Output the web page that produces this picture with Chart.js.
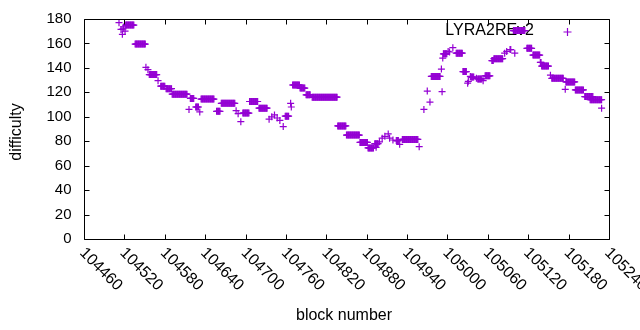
<!DOCTYPE html>
<html lang="en">
<head>
    <meta charset="UTF-8">
    <title>LYRA2REv2 difficulty</title>
    <script src="https://cdn.jsdelivr.net/npm/chart.js"></script>
    <style>
        html,body{margin:0;padding:0;background:#fff;}
        #wrap{width:640px;height:330px;}
    </style>
</head>
<body>
    <div id="wrap"><canvas id="myChart" width="640" height="330"></canvas></div>

    <script>
        // plateaus of difficulty: first block, last block, value (single points have first == last)
        const segStart = [104512,104515,104517,104518,104519,104521,104522,104536,104552,104555,104557,104570,104574,104582,104591,104616,104618,104626,104632,104634,104657,104664,104686,104689,104693,104696,104706,104720,104735,104739,104743,104747,104751,104756,104759,104767,104768,104770,104781,104790,104799,104837,104850,104870,104882,104892,104894,104899,104903,104907,104912,104914,104919,104924,104929,104933,104958,104965,104970,104974,104976,104991,104992,104993,104994,105001,105003,105008,105013,105023,105030,105031,105034,105035,105043,105045,105053,105056,105066,105069,105085,105088,105093,105098,105100,105118,105127,105138,105140,105153,105155,105175,105176,105190,105204,105212,105229];
        const segEnd   = [104512,104515,104517,104518,104519,104521,104534,104551,104552,104555,104568,104570,104580,104590,104613,104616,104623,104630,104632,104653,104662,104684,104686,104689,104693,104705,104718,104732,104735,104739,104743,104747,104751,104756,104764,104767,104768,104780,104788,104796,104836,104849,104869,104881,104890,104897,104894,104899,104903,104907,104912,104914,104919,104927,104929,104956,104958,104965,104970,104974,104989,104991,104992,104993,104999,105001,105003,105008,105022,105028,105030,105031,105034,105039,105043,105051,105053,105063,105068,105082,105085,105088,105094,105115,105100,105125,105137,105139,105150,105153,105172,105175,105189,105202,105216,105229,105229];
        const segValue = [177,171.5,167.5,172,173.5,170,175,159.5,140.5,138.5,134.5,129.5,125,123,118.5,106,115,108,104,114.5,104.5,111,105,102.5,96,103,112.5,107,98,100,101.5,99,97,92,100.5,111,108,126,123.5,118,116,92.5,85,79,74.5,78,75,79.5,82.5,84,86,82.5,81,80.5,77.5,81.5,75.5,106,121,112,133,139,120.5,148,151.5,153.5,153,156.5,152,137,127.5,129,133,132.5,131.5,131,129.5,133.5,146,147.5,152,153.5,155,170.5,152,156,150.5,144.5,141.5,134,131.5,122.5,128.5,122,116.5,114,107];

        const xTicks = [104460,104520,104580,104640,104700,104760,104820,104880,104940,105000,105060,105120,105180,105240];
        const yTicks = [0,20,40,60,80,100,120,140,160,180];
        const seriesName = 'LYRA2REv2';
        const purple = '#9400d3';
        const FONT = '15px "Liberation Sans", Arial, sans-serif';
        const FONT_BIG = '16px "Liberation Sans", Arial, sans-serif';

        // one point per block inside each plateau
        const points = [];
        segStart.forEach((s, i) => {
            for (let b = s; b <= segEnd[i]; b++) points.push({x: b, y: segValue[i]});
        });

        // gnuplot-like frame, inward ticks, labels and key
        const framePlugin = {
            id: 'frame',
            beforeDatasetsDraw(chart) {
                const ctx = chart.ctx;
                ctx.save();
                ctx.font = FONT_BIG;
                ctx.fillStyle = '#000';
                ctx.textAlign = 'right';
                ctx.textBaseline = 'middle';
                ctx.fillText(seriesName, 534, 31);
                ctx.restore();
            },
            afterDraw(chart) {
                const ctx = chart.ctx;
                const a = chart.chartArea;
                const xs = chart.scales.x, ys = chart.scales.y;
                const L = Math.round(a.left) + 0.5, R = Math.round(a.right) + 0.5;
                const T = Math.round(a.top) + 0.5, B = Math.round(a.bottom) + 0.5;
                ctx.save();
                ctx.strokeStyle = '#000';
                ctx.lineWidth = 1;
                ctx.beginPath();
                ctx.rect(L, T, R - L, B - T);
                yTicks.forEach(v => {
                    const y = Math.round(ys.getPixelForValue(v)) + 0.5;
                    ctx.moveTo(L, y); ctx.lineTo(L + 5, y);
                    ctx.moveTo(R, y); ctx.lineTo(R - 5, y);
                });
                xTicks.forEach(v => {
                    const x = Math.round(xs.getPixelForValue(v)) + 0.5;
                    ctx.moveTo(x, B); ctx.lineTo(x, B - 5);
                    ctx.moveTo(x, T); ctx.lineTo(x, T + 5);
                });
                ctx.stroke();

                ctx.font = FONT;
                ctx.fillStyle = '#000';
                ctx.textAlign = 'right';
                ctx.textBaseline = 'middle';
                yTicks.forEach(v => ctx.fillText(String(v), L - 13, ys.getPixelForValue(v)));

                ctx.font = FONT_BIG;
                ctx.textAlign = 'left';
                xTicks.forEach(v => {
                    const x = xs.getPixelForValue(v);
                    ctx.save();
                    ctx.translate(x - 2, B + 11);
                    ctx.rotate(Math.PI / 4);
                    ctx.fillText(String(v), 0, 0);
                    ctx.restore();
                });

                ctx.textAlign = 'center';
                ctx.fillText('block number', 344, 316);
                ctx.save();
                ctx.translate(17, 132);
                ctx.rotate(-Math.PI / 2);
                ctx.fillText('difficulty', 0, 0);
                ctx.restore();

                // key sample
                ctx.strokeStyle = purple;
                ctx.lineWidth = 1.2;
                ctx.beginPath();
                ctx.moveTo(563.5, 32); ctx.lineTo(571.5, 32);
                ctx.moveTo(567.5, 28); ctx.lineTo(567.5, 36);
                ctx.stroke();
                ctx.restore();
            }
        };

        const ctx = document.querySelector('#myChart').getContext('2d');
        const myChart = new Chart(ctx, {
            type: 'scatter',
            data: {
                datasets: [{
                    label: seriesName,
                    data: points,
                    pointStyle: 'cross',
                    pointRadius: 3.5,
                    borderColor: purple,
                    backgroundColor: purple,
                    borderWidth: 1.2,
                    clip: false
                }]
            },
            options: {
                responsive: false,
                animation: false,
                events: [],
                layout: {padding: {left: 84, right: 31, top: 19, bottom: 91}},
                scales: {
                    x: {type: 'linear', display: false, min: 104460, max: 105240},
                    y: {type: 'linear', display: false, min: 0, max: 180}
                },
                plugins: {legend: {display: false}, tooltip: {enabled: false}}
            },
            plugins: [framePlugin]
        });
    </script>
</body>
</html>
